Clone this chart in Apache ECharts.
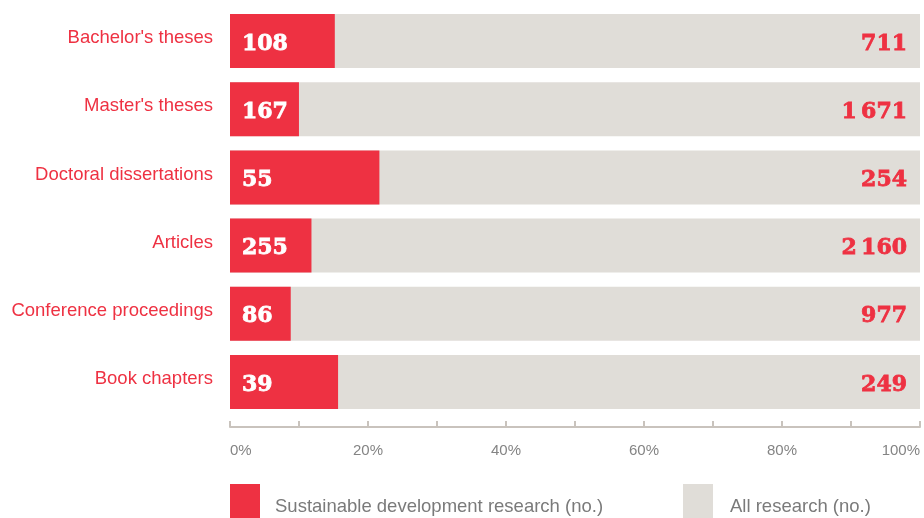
<!DOCTYPE html>
<html><head><meta charset="utf-8">
<script src="https://cdn.jsdelivr.net/npm/echarts@6/dist/echarts.min.js"></script>
<style>html,body{margin:0;padding:0;background:#fff}#c{width:924px;height:518px}</style>
</head><body><div id="c"></div>
<script>
const categories = ["Bachelor's theses", "Master's theses", "Doctoral dissertations", "Articles", "Conference proceedings", "Book chapters"];
const sdValues = [108, 167, 55, 255, 86, 39];
const allValues = [711, 1671, 254, 2160, 977, 249];
const tickLabels = ["0%", "20%", "40%", "60%", "80%", "100%"];
const seriesNames = ["Sustainable development research (no.)", "All research (no.)"];

const RED = '#ee3142', GREY = '#e0ddd8';
const fmt = n => String(n).replace(/\B(?=(\d{3})+(?!\d))/g, '\u2009');
const share = sdValues.map((v, i) => v / allValues[i] * 100);

const chart = echarts.init(document.getElementById('c'), null, {renderer: 'canvas'});
chart.setOption({
  animation: false,
  grid: {left: 230, right: 4, top: 7, bottom: 102, containLabel: false},
  legend: [
    {data: [seriesNames[0]], left: 230, top: 484, padding: 0, itemWidth: 30, itemHeight: 46, icon: 'rect',
     itemStyle: {}, textStyle: {color: '#7a7a7a', fontSize: 18.5, fontFamily: 'Liberation Sans', padding: [0, 0, 0, 10]}},
    {data: [seriesNames[1]], left: 683, top: 484, padding: 0, itemWidth: 30, itemHeight: 46, icon: 'rect',
     textStyle: {color: '#7a7a7a', fontSize: 18.5, fontFamily: 'Liberation Sans', padding: [0, 0, 0, 12]}}
  ],
  xAxis: {
    type: 'value', min: 0, max: 100, interval: 10, offset: 11,
    axisLine: {show: true, lineStyle: {color: '#c9c3bd', width: 2}},
    axisTick: {show: true, inside: true, length: 6, lineStyle: {color: '#c9c3bd', width: 2}},
    splitLine: {show: false},
    axisLabel: {
      margin: 16, color: '#848484', fontSize: 15, fontFamily: 'Liberation Sans',
      alignMinLabel: 'left', alignMaxLabel: 'right',
      formatter: v => (v % 20 === 0 ? tickLabels[v / 20] : '')
    }
  },
  yAxis: {
    type: 'category', data: categories, inverse: true,
    axisLine: {show: false}, axisTick: {show: false},
    axisLabel: {margin: 17, formatter: v => '{a|' + v + '}',
      rich: {a: {color: RED, fontSize: 18.5, fontFamily: 'Liberation Sans', padding: [0, 0, 6, 0]}}}
  },
  series: [
    {
      name: seriesNames[0], type: 'bar', z: 3, barWidth: 54, barGap: '-100%',
      itemStyle: {color: RED},
      data: share,
      label: {show: true, position: 'insideLeft', distance: 12, offset: [0, 3], color: '#fff', fontSize: 22,
        fontWeight: 'bold', fontFamily: 'DejaVu Serif',
        textBorderColor: '#fff', textBorderWidth: 0.8,
        formatter: p => fmt(sdValues[p.dataIndex])}
    },
    {
      name: seriesNames[1], type: 'bar', z: 2, barWidth: 54, barGap: '-100%',
      itemStyle: {color: GREY},
      data: allValues.map(() => 100),
      label: {show: true, position: 'insideRight', distance: 13, offset: [0, 3], color: RED, fontSize: 22,
        fontWeight: 'bold', fontFamily: 'DejaVu Serif',
        textBorderColor: RED, textBorderWidth: 0.8,
        formatter: p => fmt(allValues[p.dataIndex])}
    }
  ]
});
</script></body></html>
